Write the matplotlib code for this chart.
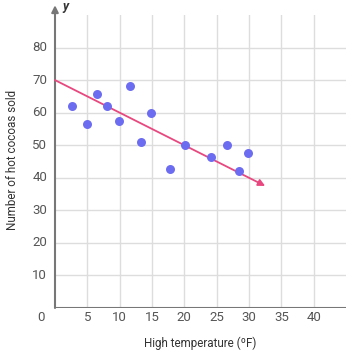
import matplotlib
matplotlib.use("Agg")
import matplotlib.pyplot as plt

plt.rcParams['font.family'] = ['Roboto', 'DejaVu Sans']

temps = [2.7, 5.0, 6.5, 8.0, 9.9, 11.6, 13.3, 14.9, 17.8, 20.1, 24.2, 26.6, 28.5, 29.8]
cocoas = [62.1, 56.4, 65.8, 62.2, 57.4, 68.2, 50.9, 59.9, 42.8, 50.1, 46.4, 50.2, 42.2, 47.6]
line_x = [0, 32.5]
line_y = [70, 37.5]
xticks = [5, 10, 15, 20, 25, 30, 35, 40]
yticks = [10, 20, 30, 40, 50, 60, 70, 80]

W, H = 346, 356
fig = plt.figure(figsize=(W / 100, H / 100), dpi=100)
fig.patch.set_facecolor('white')
ax = fig.add_axes([55 / W, 48 / H, 291 / W, 293 / H])
ax.set_xlim(0, 45)
ax.set_ylim(0, 90)
ax.set_facecolor('white')
for s in ax.spines.values():
    s.set_visible(False)

for x in xticks:
    ax.axvline(x, color='#dddddd', lw=1, zorder=0)
for y in yticks:
    ax.axhline(y, color='#dddddd', lw=1, zorder=0)

ax.axhline(0, color='#777777', lw=1.5, zorder=1)
ax.annotate('', xy=(0, 93), xytext=(0, 0), annotation_clip=False,
            arrowprops=dict(arrowstyle='-|>', color='#777777', lw=1.5,
                            mutation_scale=10, shrinkA=0, shrinkB=0), zorder=2)
ax.text(1.2, 92.5, 'y', fontsize=9, fontstyle='italic', fontweight='bold',
        color='#333333', va='center', ha='left', clip_on=False)

ax.set_xticks([])
ax.set_yticks([])
for x in xticks:
    ax.text(x, -3, str(x), ha='center', va='center', fontsize=9.5, color='#555555')
for y in yticks:
    ax.text(-1.2, y, str(y), ha='right', va='center', fontsize=9.5, color='#555555')
ax.text(-1.6, -3, '0', ha='right', va='center', fontsize=9.5, color='#555555')

ax.annotate('', xy=(line_x[1], line_y[1]), xytext=(line_x[0], line_y[0]),
            arrowprops=dict(arrowstyle='-|>', color='#E8487F', lw=1.3,
                            mutation_scale=10, shrinkA=0, shrinkB=0), zorder=3)
ax.scatter(temps, cocoas, s=42, color='#6C6CF0', zorder=4, linewidths=0)

fig.text(200 / W, 1 - 343 / H, 'High temperature (ºF)', ha='center', va='center',
         fontsize=8.4, color='#333333')
fig.text(13 / W, 1 - 160 / H, 'Number of hot cocoas sold', ha='center', va='center',
         rotation=90, fontsize=8.4, color='#333333')

fig.savefig('out.png', dpi=100)
